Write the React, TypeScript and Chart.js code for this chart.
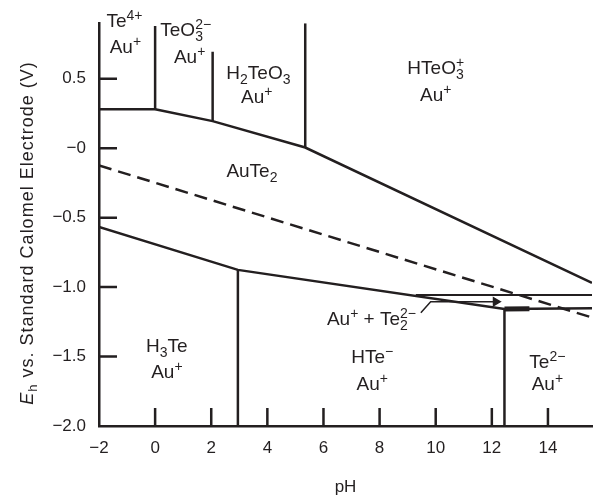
import React, { useEffect, useRef } from 'react';
import { Chart, registerables } from 'chart.js';

Chart.register(...registerables);

const INK = '#231f20';
const FONT = '"Liberation Sans", Arial, Helvetica, sans-serif';

// Axis ranges and ticks
const X_MIN = -2;
const X_MAX = 15.57;
const Y_MIN = -2;
const Y_MAX = 0.9;
const xTickValues = [-2, 0, 2, 4, 6, 8, 10, 12, 14];
const xTickLabels = ['−2', '0', '2', '4', '6', '8', '10', '12', '14'];
const yTickValues = [-2, -1.5, -1, -0.5, 0, 0.5];
const yTickLabels = ['−2.0', '−1.5', '−1.0', '−0.5', '−0', '0.5'];

// Boundary lines (pH, Eh)
const teIVHorizPH = [-2, 0];
const teIVHorizV = [0.281, 0.281];
const auTe2TopPH = [0, 2.05, 5.35, 15.57];
const auTe2TopV = [0.281, 0.195, 0.005, -0.969];
const teO3VertPH = [0, 0];
const teO3VertV = [0.281, 0.88];
const h2teo3VertPH = [2.05, 2.05];
const h2teo3VertV = [0.195, 0.695];
const hteo3VertPH = [5.35, 5.35];
const hteo3VertV = [0.005, 0.9];
const waterPH = [-2, 15.57];
const waterV = [-0.124, -1.219];
const auTe2BottomPH = [-2, 2.95, 12.45, 15.57];
const auTe2BottomV = [-0.566, -0.876, -1.158, -1.152];
const h3teVertPH = [2.95, 2.95];
const h3teVertV = [-0.876, -2];
const te2VertPH = [12.45, 12.45];
const te2VertV = [-1.158, -2];
const te22TopPH = [9.29, 15.57];
const te22TopV = [-1.057, -1.057];
const te22ThickPH = [12.45, 13.34];
const te22ThickV = [-1.158, -1.156];
const arrowPH = [9.47, 9.82, 12.14];
const arrowV = [-1.184, -1.105, -1.105];

type Seg = { t: string; k?: 'sub' | 'sup' | 'stack'; sup?: string; sub?: string };
type RegionLabel = { ph: number; v: number; segs: Seg[] };

const AU: Seg[] = [{ t: 'Au' }, { t: '+', k: 'sup' }];

const regionLabels: RegionLabel[] = [
  { ph: -1.09, v: 0.876, segs: [{ t: 'Te' }, { t: '4+', k: 'sup' }] },
  { ph: -1.06, v: 0.686, segs: AU },
  { ph: 1.09, v: 0.805, segs: [{ t: 'TeO' }, { t: '', k: 'stack', sup: '2−', sub: '3' }] },
  { ph: 1.23, v: 0.614, segs: AU },
  { ph: 3.68, v: 0.5, segs: [{ t: 'H' }, { t: '2', k: 'sub' }, { t: 'TeO' }, { t: '3', k: 'sub' }] },
  { ph: 3.62, v: 0.329, segs: AU },
  { ph: 10.0, v: 0.531, segs: [{ t: 'HTeO' }, { t: '', k: 'stack', sup: '+', sub: '3' }] },
  { ph: 10.0, v: 0.341, segs: AU },
  { ph: 3.45, v: -0.207, segs: [{ t: 'AuTe' }, { t: '2', k: 'sub' }] },
  { ph: 0.42, v: -1.469, segs: [{ t: 'H' }, { t: '3', k: 'sub' }, { t: 'Te' }] },
  { ph: 0.42, v: -1.657, segs: AU },
  { ph: 7.71, v: -1.271, segs: [{ t: 'Au' }, { t: '+', k: 'sup' }, { t: ' + Te' }, { t: '', k: 'stack', sup: '2−', sub: '2' }] },
  { ph: 7.74, v: -1.55, segs: [{ t: 'HTe' }, { t: '−', k: 'sup' }] },
  { ph: 7.74, v: -1.743, segs: AU },
  { ph: 13.98, v: -1.586, segs: [{ t: 'Te' }, { t: '2−', k: 'sup' }] },
  { ph: 13.98, v: -1.743, segs: AU },
];

const BIG = `19px ${FONT}`;
const SMALL = `14px ${FONT}`;

function drawRich(ctx: CanvasRenderingContext2D, segs: Seg[], cx: number, by: number) {
  const widths = segs.map((s) => {
    if (!s.k) {
      ctx.font = BIG;
      return ctx.measureText(s.t).width;
    }
    ctx.font = SMALL;
    if (s.k === 'stack') return Math.max(ctx.measureText(s.sup || '').width, ctx.measureText(s.sub || '').width);
    return ctx.measureText(s.t).width;
  });
  const total = widths.reduce((a, b) => a + b, 0);
  let x = cx - total / 2;
  ctx.textAlign = 'left';
  ctx.textBaseline = 'alphabetic';
  ctx.fillStyle = INK;
  segs.forEach((s, i) => {
    if (!s.k) {
      ctx.font = BIG;
      ctx.fillText(s.t, x, by);
    } else if (s.k === 'sub') {
      ctx.font = SMALL;
      ctx.fillText(s.t, x, by + 5);
    } else if (s.k === 'sup') {
      ctx.font = SMALL;
      ctx.fillText(s.t, x, by - 7);
    } else {
      ctx.font = SMALL;
      ctx.fillText(s.sup || '', x, by - 7);
      ctx.fillText(s.sub || '', x, by + 5);
    }
    x += widths[i];
  });
}

function lineData(xs: number[], ys: number[]) {
  return xs.map((x, i) => ({ x, y: ys[i] }));
}

const decorPlugin = {
  id: 'decor',
  afterDraw(chart: any) {
    const ctx: CanvasRenderingContext2D = chart.ctx;
    const xs = chart.scales.x;
    const ys = chart.scales.y;
    const area = chart.chartArea;
    ctx.save();
    // inward ticks
    ctx.strokeStyle = INK;
    ctx.lineWidth = 2.5;
    ctx.beginPath();
    xTickValues.forEach((v) => {
      if (v <= X_MIN) return;
      const px = xs.getPixelForValue(v);
      ctx.moveTo(px, area.bottom);
      ctx.lineTo(px, area.bottom - 18);
    });
    yTickValues.forEach((v) => {
      if (v <= Y_MIN) return;
      const py = ys.getPixelForValue(v);
      ctx.moveTo(area.left, py);
      ctx.lineTo(area.left + 18, py);
    });
    ctx.stroke();

    // region labels
    regionLabels.forEach((l) => {
      drawRich(ctx, l.segs, xs.getPixelForValue(l.ph), ys.getPixelForValue(l.v));
    });

    // x title
    ctx.font = `17px ${FONT}`;
    ctx.fillStyle = INK;
    ctx.textAlign = 'center';
    ctx.textBaseline = 'alphabetic';
    ctx.fillText('pH', (area.left + area.right) / 2, 492);

    // y title (rotated)
    ctx.translate(33, 233);
    ctx.rotate(-Math.PI / 2);
    (ctx as any).letterSpacing = '1px';
    const parts: { t: string; f: string; dy: number }[] = [
      { t: 'E', f: `italic 18px ${FONT}`, dy: 0 },
      { t: 'h', f: `13px ${FONT}`, dy: 4 },
      { t: ' vs. Standard Calomel Electrode (V)', f: `18px ${FONT}`, dy: 0 },
    ];
    const ws = parts.map((p) => {
      ctx.font = p.f;
      return ctx.measureText(p.t).width;
    });
    let x = -ws.reduce((a, b) => a + b, 0) / 2;
    ctx.textAlign = 'left';
    parts.forEach((p, i) => {
      ctx.font = p.f;
      ctx.fillText(p.t, x, p.dy);
      x += ws[i];
    });
    ctx.restore();
  },
};

function solid(data: { x: number; y: number }[], width = 2.5) {
  return {
    data,
    showLine: true,
    borderColor: INK,
    backgroundColor: INK,
    borderWidth: width,
    pointRadius: 0,
    borderCapStyle: 'butt' as const,
    borderJoinStyle: 'miter' as const,
  };
}

export default function App() {
  const ref = useRef<HTMLCanvasElement>(null);
  useEffect(() => {
    if (!ref.current) return;
    const arrow: any = solid(lineData(arrowPH, arrowV), 1.5);
    arrow.pointRadius = [0, 0, 4.5];
    arrow.pointStyle = 'triangle';
    arrow.rotation = 90;
    const water: any = solid(lineData(waterPH, waterV), 2.5);
    water.borderDash = [13, 7];
    const chart = new Chart(ref.current, {
      type: 'scatter',
      data: {
        datasets: [
          solid(lineData(teIVHorizPH, teIVHorizV)),
          solid(lineData(auTe2TopPH, auTe2TopV)),
          solid(lineData(teO3VertPH, teO3VertV)),
          solid(lineData(h2teo3VertPH, h2teo3VertV)),
          solid(lineData(hteo3VertPH, hteo3VertV)),
          water,
          solid(lineData(auTe2BottomPH, auTe2BottomV)),
          solid(lineData(h3teVertPH, h3teVertV)),
          solid(lineData(te2VertPH, te2VertV)),
          solid(lineData(te22TopPH, te22TopV), 2),
          solid(lineData(te22ThickPH, te22ThickV), 5),
          arrow,
        ] as any,
      },
      options: {
        responsive: false,
        animation: false,
        devicePixelRatio: 1,
        layout: { padding: { top: 20, left: 0, right: 0, bottom: 0 } },
        plugins: { legend: { display: false }, tooltip: { enabled: false } },
        events: [],
        scales: {
          x: {
            type: 'linear',
            min: X_MIN,
            max: X_MAX,
            grid: { display: false, drawTicks: false },
            border: { display: true, color: INK, width: 2.5 },
            afterBuildTicks: (s: any) => {
              s.ticks = xTickValues.map((v) => ({ value: v }));
            },
            afterFit: (s: any) => {
              s.height = 73;
            },
            ticks: {
              color: INK,
              font: { family: FONT, size: 17 },
              padding: 12,
              maxRotation: 0,
              autoSkip: false,
              callback: (v: any) => {
                const i = xTickValues.indexOf(Number(v));
                return i >= 0 ? xTickLabels[i] : '';
              },
            },
          },
          y: {
            type: 'linear',
            min: Y_MIN,
            max: Y_MAX,
            grid: { display: false, drawTicks: false },
            border: { display: true, color: INK, width: 2.5 },
            afterBuildTicks: (s: any) => {
              s.ticks = yTickValues.map((v) => ({ value: v }));
            },
            afterFit: (s: any) => {
              s.width = 99;
            },
            ticks: {
              color: INK,
              font: { family: FONT, size: 17 },
              padding: 13,
              autoSkip: false,
              callback: (v: any) => {
                const i = yTickValues.indexOf(Number(v));
                return i >= 0 ? yTickLabels[i] : '';
              },
            },
          },
        },
      } as any,
      plugins: [decorPlugin],
    });
    return () => chart.destroy();
  }, []);
  return (
    <div style={{ position: 'fixed', left: 0, top: 0, width: 598, height: 499, background: '#fff' }}>
      <canvas ref={ref} width={598} height={499} style={{ display: 'block', width: 598, height: 499 }} />
    </div>
  );
}
